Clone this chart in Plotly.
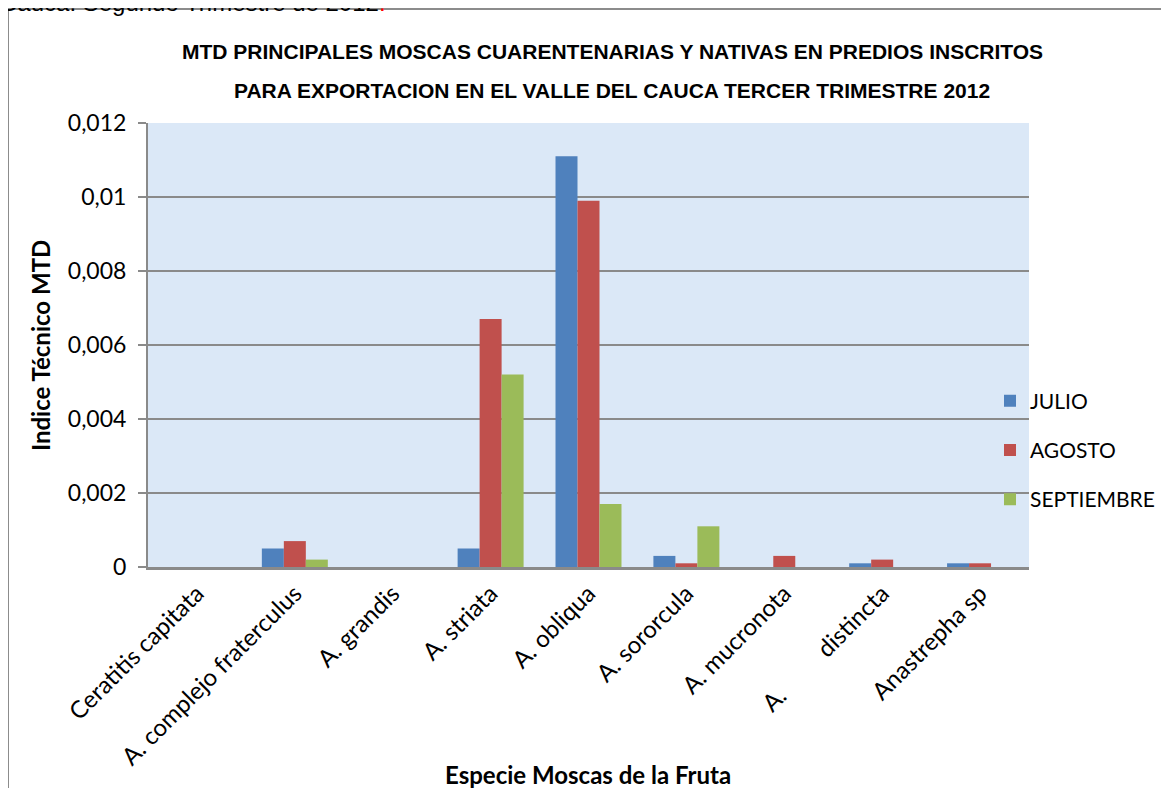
import plotly.graph_objects as go

categories = ["Ceratitis capitata", "A. complejo fraterculus", "A. grandis", "A. striata",
              "A. obliqua", "A. sororcula", "A. mucronota",
              "A.\u00a0\u00a0\u00a0\u00a0\u00a0\u00a0\u00a0\u00a0\u00a0distincta", "Anastrepha sp"]
julio = [0, 0.0005, 0, 0.0005, 0.0111, 0.0003, 0, 0.0001, 0.0001]
agosto = [0, 0.0007, 0, 0.0067, 0.0099, 0.0001, 0.0003, 0.0002, 0.0001]
septiembre = [0, 0.0002, 0, 0.0052, 0.0017, 0.0011, 0, 0, 0]
series_names = ["JULIO", "AGOSTO", "SEPTIEMBRE"]
colors = ["#4f81bd", "#c0504d", "#9bbb59"]
y_ticks = [0, 0.002, 0.004, 0.006, 0.008, 0.010, 0.012]

# page body has an 8px margin; figure sized to fit the window
OFF = 8
W, H = 1161, 780
L, R, T, B = 140, 140, 115, 221
pw, ph = W - L - R, H - T - B

def px_x(sx):
    return (sx - OFF - L) / pw

def px_y(sy):
    return (H - B - (sy - OFF)) / ph

fig = go.Figure()
for name, vals, c in zip(series_names, [julio, agosto, septiembre], colors):
    fig.add_trace(go.Bar(x=categories, y=vals, name=name, marker_color=c,
                         marker_line_width=0, legendgroup=name))

fig.update_layout(
    width=W, height=H,
    margin=dict(l=L, r=R, t=T, b=B, autoexpand=False),
    paper_bgcolor="white",
    plot_bgcolor="#dbe8f7",
    separators=",.",
    barmode="group",
    bargap=0.326,
    bargroupgap=0,
    font=dict(family="Lato, 'Open Sans', sans-serif", color="black"),
    showlegend=True,
    legend=dict(x=px_x(990), xanchor="left", y=px_y(450), yanchor="middle",
                bgcolor="rgba(0,0,0,0)", font=dict(size=21), itemwidth=30,
                tracegroupgap=19, traceorder="grouped"),
)
fig.update_yaxes(range=[0, 0.012], tickvals=y_ticks, showgrid=True, gridcolor="#8a8a8a",
                 gridwidth=2, showline=True, linecolor="#8a8a8a", linewidth=2,
                 ticks="outside", ticklen=8, tickcolor="#8a8a8a", tickwidth=2,
                 ticklabelstandoff=7, tickfont=dict(size=23), zeroline=False)
fig.update_xaxes(showline=True, linecolor="#8a8a8a", linewidth=3, tickangle=-45,
                 tickfont=dict(size=24), ticks="")

title_font = dict(family="Liberation Sans, Arial, sans-serif", size=21, color="black")
fig.add_annotation(text="<b>MTD PRINCIPALES MOSCAS CUARENTENARIAS Y NATIVAS EN PREDIOS INSCRITOS</b>",
                   xref="paper", yref="paper", x=px_x(612), y=px_y(52), showarrow=False,
                   xanchor="center", yanchor="middle", font=title_font)
fig.add_annotation(text="<b>PARA EXPORTACION EN EL VALLE DEL CAUCA TERCER TRIMESTRE 2012</b>",
                   xref="paper", yref="paper", x=px_x(612), y=px_y(90), showarrow=False,
                   xanchor="center", yanchor="middle", font=title_font)
fig.add_annotation(text="<b>Indice Técnico MTD</b>", xref="paper", yref="paper",
                   x=px_x(40), y=px_y(346), textangle=-90, showarrow=False,
                   xanchor="center", yanchor="middle", font=dict(size=24))
fig.add_annotation(text="<b>Especie Moscas de la Fruta</b>", xref="paper", yref="paper",
                   x=px_x(588), y=px_y(774), showarrow=False,
                   xanchor="center", yanchor="middle", font=dict(size=24))
fig.add_annotation(text="Cauca. Segundo Trimestre de 2012<span style='color:red'>.</span>",
                   xref="paper", yref="paper", x=px_x(-2), y=px_y(2), showarrow=False,
                   xanchor="left", yanchor="middle",
                   font=dict(family="Liberation Sans, Arial, sans-serif", size=24))
fig.add_shape(type="rect", xref="paper", yref="paper", x0=px_x(8), x1=px_x(1300),
              y0=px_y(900), y1=px_y(9), line=dict(color="#8c8c8c", width=2),
              fillcolor="rgba(0,0,0,0)", layer="below")

fig.write_html("out.html")
